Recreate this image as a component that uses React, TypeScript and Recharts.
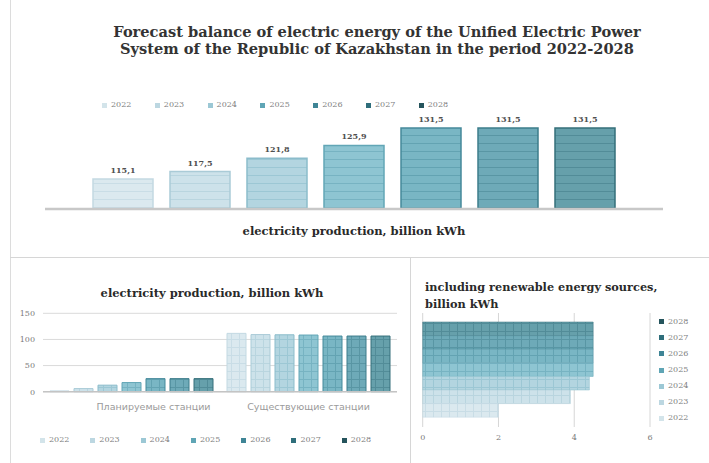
import React from 'react';
import { BarChart, Bar, XAxis, YAxis, CartesianGrid, LabelList, Legend } from 'recharts';

// ---------- data ----------
const years = ['2022', '2023', '2024', '2025', '2026', '2027', '2028'];
const topCategory = 'electricity production, billion kWh';
const totalProduction = [115.1, 117.5, 121.8, 125.9, 131.5, 131.5, 131.5];
const stationCategories = ['Планируемые станции', 'Существующие станции'];
const plannedStations = [1.5, 6.0, 12.5, 17.5, 25.0, 25.0, 25.0];
const existingStations = [111.6, 109.3, 108.9, 108.4, 106.5, 106.5, 106.5];
const renewables = [2.0, 3.9, 4.4, 4.5, 4.5, 4.5, 4.5];
const leftTicks = [0, 50, 100, 150];
const rightTicks = [0, 2, 4, 6];

const titleLine1 = 'Forecast balance of electric energy of the Unified Electric Power';
const titleLine2 = 'System of the Republic of Kazakhstan in the period 2022-2028';
const leftTitle = 'electricity production, billion kWh';
const rightTitle1 = 'including renewable energy sources,';
const rightTitle2 = 'billion kWh';

// ---------- styles ----------
const fills = ['#dbe9ef', '#cde2ea', '#b3d5e0', '#8ec5d2', '#79b6c4', '#6eaab8', '#66a0ab'];
const lines = ['#c9dde6', '#b9d5df', '#9cc7d4', '#77b3c2', '#63a3b2', '#5996a4', '#528c98'];
const strokes = ['#c3d9e2', '#aacbd7', '#8bbccb', '#62a6b6', '#45899a', '#3d7d8b', '#356f7a'];
const markers = ['#d3e4ea', '#bcd7e1', '#9cc8d5', '#5fa5b5', '#3f8596', '#2f6e7b', '#25545c'];

const serif = '"DejaVu Serif", serif';

const fmt = (v: any) => Number(v).toFixed(1).replace('.', ',');

const makeLegend = (itemW: number, vertical: boolean, itemH: number, descending: boolean) => (props: any) => {
  const payload = [...(props.payload || [])].sort((a: any, b: any) =>
    descending ? String(b.value).localeCompare(String(a.value)) : String(a.value).localeCompare(String(b.value))
  );
  return (
    <div style={{ display: 'flex', flexDirection: vertical ? 'column' : 'row' }}>
      {payload.map((p: any) => {
        const i = years.indexOf(String(p.value));
        return (
          <div
            key={String(p.value)}
            style={{
              width: vertical ? 'auto' : itemW,
              height: itemH,
              display: 'flex',
              alignItems: 'center',
              fontFamily: serif,
              fontSize: 8,
              color: '#808080',
              lineHeight: 1,
            }}
          >
            <span
              style={{
                width: 5,
                height: 5,
                background: markers[i],
                marginRight: 4,
                display: 'inline-block',
              }}
            />
            {p.value}
          </div>
        );
      })}
    </div>
  );
};

const StationTick = (props: any) => {
  const { x, y, payload, index } = props;
  return (
    <text
      x={x + (index === 0 ? 22 : 0)}
      y={y}
      dy={10.5}
      textAnchor="middle"
      fontSize={9.5}
      fill="#9a9a9a"
      fontFamily='"DejaVu Sans", sans-serif'
    >
      {payload.value}
    </text>
  );
};

const Patterns = ({ prefix, grid }: { prefix: string; grid: boolean }) => (
  <defs>
    {years.map((y, i) => (
      <pattern key={y} id={`${prefix}${y}`} width={8} height={8} patternUnits="userSpaceOnUse">
        <rect x={0} y={0} width={8} height={8} fill={fills[i]} />
        <line x1={0} y1={7.5} x2={8} y2={7.5} stroke={lines[i]} strokeWidth={1} />
        {grid && <line x1={7.5} y1={0} x2={7.5} y2={8} stroke={lines[i]} strokeWidth={1} />}
      </pattern>
    ))}
  </defs>
);

export default function App() {
  const topData = [
    { name: topCategory, ...Object.fromEntries(years.map((y, i) => [y, totalProduction[i]])) },
  ];
  const leftData = stationCategories.map((c, ci) => ({
    name: c,
    ...Object.fromEntries(years.map((y, i) => [y, ci === 0 ? plannedStations[i] : existingStations[i]])),
  }));
  const rightData = [{ name: 'res', ...Object.fromEntries(years.map((y, i) => [y, renewables[i]])) }];
  const reversedYears = [...years].reverse();

  return (
    <div
      style={{
        position: 'absolute',
        left: 0,
        top: 0,
        width: 709,
        height: 463,
        background: '#ffffff',
        overflow: 'hidden',
      }}
    >
      {/* panel borders */}
      <div style={{ position: 'absolute', left: 10, top: 0, width: 1, height: 463, background: '#dcdcdc' }} />
      <div style={{ position: 'absolute', left: 10, top: 257, width: 699, height: 1, background: '#d6d6d6' }} />
      <div style={{ position: 'absolute', left: 410, top: 257, width: 1, height: 206, background: '#d6d6d6' }} />

      {/* top title */}
      <div
        style={{
          position: 'absolute',
          left: 27,
          top: 23,
          width: 700,
          textAlign: 'center',
          fontFamily: serif,
          fontWeight: 'bold',
          fontSize: 14.6,
          lineHeight: '17px',
          color: '#333333',
        }}
      >
        <div>{titleLine1}</div>
        <div>{titleLine2}</div>
      </div>

      {/* top chart */}
      <div style={{ position: 'absolute', left: 0, top: 0 }}>
        <BarChart
          width={709}
          height={258}
          data={topData}
          margin={{ top: 101.5, right: 46, bottom: 19, left: 45 }}
          barSize={60}
          barGap={17}
        >
          <Patterns prefix="pt" grid={false} />
          <XAxis
            dataKey="name"
            axisLine={{ stroke: '#c8c8c8', strokeWidth: 2.5 }}
            tickLine={false}
            tickMargin={12}
            height={30}
            tick={{ fontSize: 11.5, fontWeight: 'bold', fill: '#2a2a2a', fontFamily: serif }}
          />
          <YAxis hide domain={[105.5, 140]} allowDataOverflow />
          <Legend
            layout="horizontal"
            align="center"
            verticalAlign="middle"
            wrapperStyle={{ left: 102, top: 100, width: 400 }}
            content={makeLegend(52.8, false, 10, false)}
          />
          {years.map((y, i) => (
            <Bar
              key={y}
              dataKey={y}
              name={y}
              fill={`url(#pt${y})`}
              stroke={strokes[i]}
              strokeWidth={1.5}
              isAnimationActive={false}
            >
              <LabelList
                dataKey={y}
                position="top"
                formatter={fmt}
                fontSize={8}
                fontWeight="bold"
                fill="#505050"
                fontFamily={serif}
                offset={6}
              />
            </Bar>
          ))}
        </BarChart>
      </div>

      {/* bottom-left title */}
      <div
        style={{
          position: 'absolute',
          left: 60,
          top: 286,
          width: 304,
          textAlign: 'center',
          fontFamily: serif,
          fontWeight: 'bold',
          fontSize: 11.5,
          lineHeight: '14px',
          color: '#2a2a2a',
        }}
      >
        {leftTitle}
      </div>

      {/* bottom-left chart */}
      <div style={{ position: 'absolute', left: 0, top: 260 }}>
        <BarChart
          width={410}
          height={203}
          data={leftData}
          margin={{ top: 53.3, right: 13, bottom: 41.3, left: 10 }}
          barSize={19}
          barGap={5}
        >
          <Patterns prefix="pl" grid={true} />
          <CartesianGrid vertical={false} stroke="#dadada" />
          <XAxis
            dataKey="name"
            axisLine={{ stroke: '#c4c4c4', strokeWidth: 1.5 }}
            tickLine={false}
            tickMargin={2}
            height={30}
            tick={<StationTick />}
          />
          <YAxis
            width={33}
            domain={[0, 150]}
            ticks={leftTicks}
            axisLine={false}
            tickLine={false}
            tick={{ fontSize: 8, fill: '#7a7a7a', fontFamily: serif }}
          />
          <Legend
            layout="horizontal"
            align="center"
            verticalAlign="middle"
            wrapperStyle={{ left: 40, top: 175, width: 370 }}
            content={makeLegend(50.3, false, 10, false)}
          />
          {years.map((y, i) => (
            <Bar
              key={y}
              dataKey={y}
              name={y}
              fill={`url(#pl${y})`}
              stroke={strokes[i]}
              strokeWidth={1}
              isAnimationActive={false}
            />
          ))}
        </BarChart>
      </div>

      {/* bottom-right title */}
      <div
        style={{
          position: 'absolute',
          left: 425,
          top: 279,
          width: 284,
          fontFamily: serif,
          fontWeight: 'bold',
          fontSize: 11.3,
          lineHeight: '16.5px',
          color: '#2a2a2a',
        }}
      >
        <div>{rightTitle1}</div>
        <div>{rightTitle2}</div>
      </div>

      {/* bottom-right chart */}
      <div style={{ position: 'absolute', left: 410, top: 260 }}>
        <BarChart
          width={299}
          height={203}
          data={rightData}
          layout="vertical"
          margin={{ top: 53, right: 59, bottom: 16, left: 12.7 }}
          barSize={13.6}
          barGap={0}
        >
          <Patterns prefix="pr" grid={true} />
          <CartesianGrid horizontal={false} stroke="#d6d6d6" />
          <XAxis
            type="number"
            domain={[0, 6]}
            ticks={rightTicks}
            axisLine={false}
            tickLine={false}
            tickMargin={1}
            height={20}
            tick={{ fontSize: 8, fill: '#7a7a7a', fontFamily: serif }}
          />
          <YAxis type="category" dataKey="name" hide />
          <Legend
            layout="vertical"
            align="center"
            verticalAlign="middle"
            wrapperStyle={{ left: 249, top: 53.7, width: 50 }}
            content={makeLegend(50, true, 16.1, true)}
          />
          {reversedYears.map((y) => {
            const i = years.indexOf(y);
            return (
              <Bar
                key={y}
                dataKey={y}
                name={y}
                fill={`url(#pr${y})`}
                stroke={strokes[i]}
                strokeWidth={0.5}
                isAnimationActive={false}
              />
            );
          })}
        </BarChart>
      </div>
    </div>
  );
}
